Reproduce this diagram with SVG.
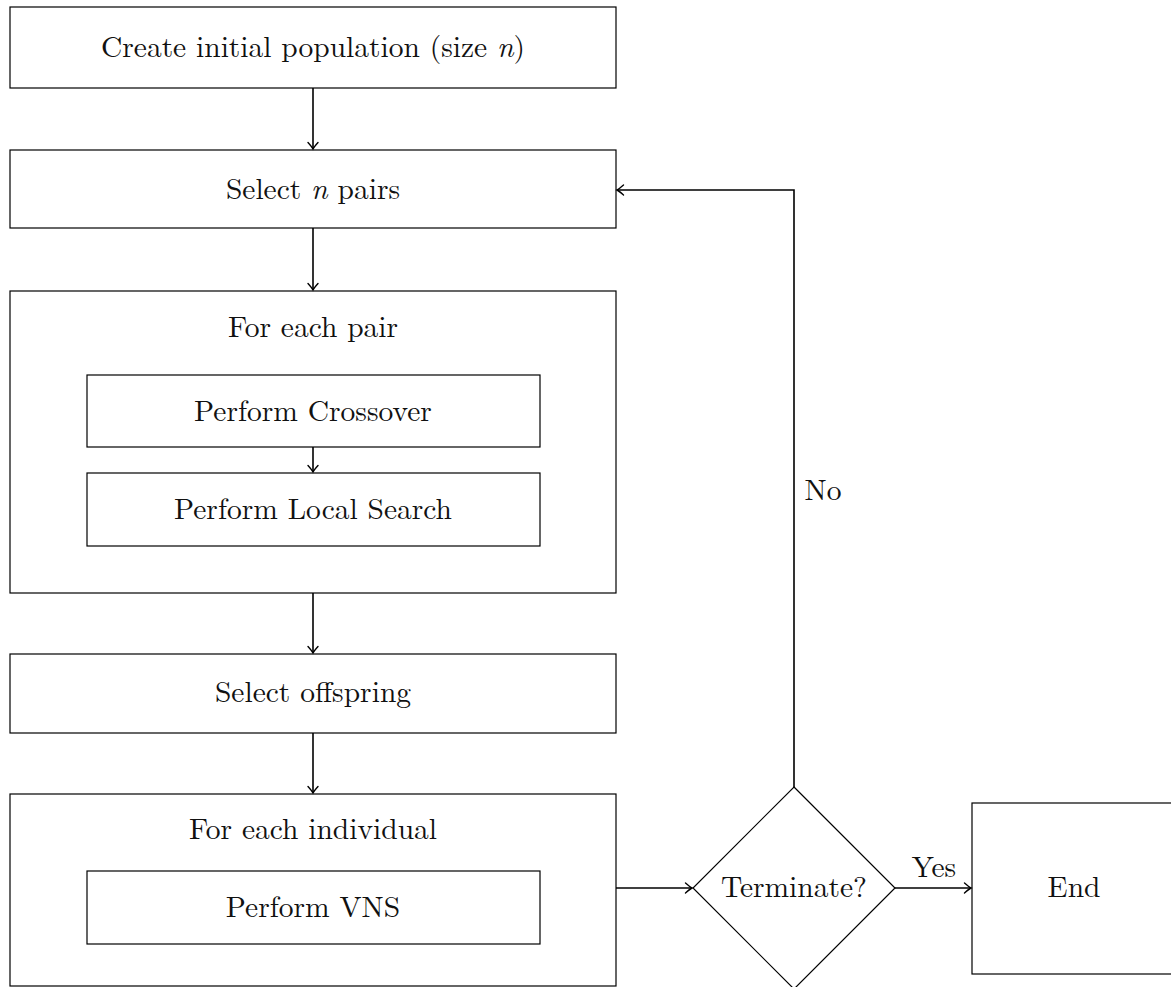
<svg xmlns="http://www.w3.org/2000/svg" width="1171" height="987" viewBox="0 0 1171 987" font-family="'Latin Modern Roman', 'Liberation Serif', serif">
  <style>
    .box { fill: none; stroke: #000; stroke-width: 1.2; }
    .lbl { font-size: 29.5px; fill: #111; text-anchor: middle; }
    .it { font-style: italic; }
    .edge { fill: none; stroke: #000; stroke-width: 1.6; marker-end: url(#to); }
  </style>
  <defs>
    <marker id="to" viewBox="-8 -6 10 12" refX="0" refY="0" markerWidth="10" markerHeight="12" markerUnits="userSpaceOnUse" orient="auto">
      <path d="M-6.5,-5 Q-2,-1 0,0 Q-2,1 -6.5,5" fill="none" stroke="#000" stroke-width="1.4" stroke-linecap="round"/>
    </marker>
  </defs>
  <rect width="1171" height="987" fill="#fff"/>

  <g id="init">
    <rect class="box" x="10" y="7" width="606" height="81"/>
    <text class="lbl" x="313" y="57">Create initial population (size <tspan class="it">n</tspan>)</text>
  </g>
  <g id="select-pairs">
    <rect class="box" x="10" y="150" width="606" height="78"/>
    <text class="lbl" x="313" y="199">Select <tspan class="it">n</tspan> pairs</text>
  </g>
  <g id="each-pair">
    <rect class="box" x="10" y="291" width="606" height="302"/>
    <text class="lbl" x="313" y="337">For each pair</text>
  </g>
  <g id="crossover">
    <rect class="box" x="87" y="375" width="453" height="72"/>
    <text class="lbl" x="313" y="421">Perform Crossover</text>
  </g>
  <g id="local-search">
    <rect class="box" x="87" y="473" width="453" height="73"/>
    <text class="lbl" x="313" y="519">Perform Local Search</text>
  </g>
  <g id="select-offspring">
    <rect class="box" x="10" y="654" width="606" height="79"/>
    <text class="lbl" x="313" y="702">Select offspring</text>
  </g>
  <g id="each-individual">
    <rect class="box" x="10" y="794" width="606" height="192"/>
    <text class="lbl" x="313" y="839">For each individual</text>
  </g>
  <g id="vns">
    <rect class="box" x="87" y="871" width="453" height="73"/>
    <text class="lbl" x="313" y="917">Perform VNS</text>
  </g>
  <g id="terminate">
    <polygon class="box" points="794,787 895,888 794,989 693,888"/>
    <text class="lbl" x="794" y="897">Terminate?</text>
  </g>
  <g id="end">
    <rect class="box" x="972" y="803" width="210" height="171"/>
    <text class="lbl" x="1074" y="897">End</text>
  </g>

  <g id="connectors">
    <line class="edge" x1="313" y1="88" x2="313" y2="149"/>
    <line class="edge" x1="313" y1="228" x2="313" y2="290"/>
    <line class="edge" x1="313" y1="447" x2="313" y2="472"/>
    <line class="edge" x1="313" y1="593" x2="313" y2="653"/>
    <line class="edge" x1="313" y1="733" x2="313" y2="793"/>
    <line class="edge" x1="616" y1="888" x2="692" y2="888"/>
    <line class="edge" x1="895" y1="888" x2="971" y2="888"/>
    <polyline class="edge" points="794,787 794,190 617,190"/>
    <text class="lbl" x="934" y="877">Yes</text>
    <text class="lbl" x="823" y="500">No</text>
  </g>
</svg>
